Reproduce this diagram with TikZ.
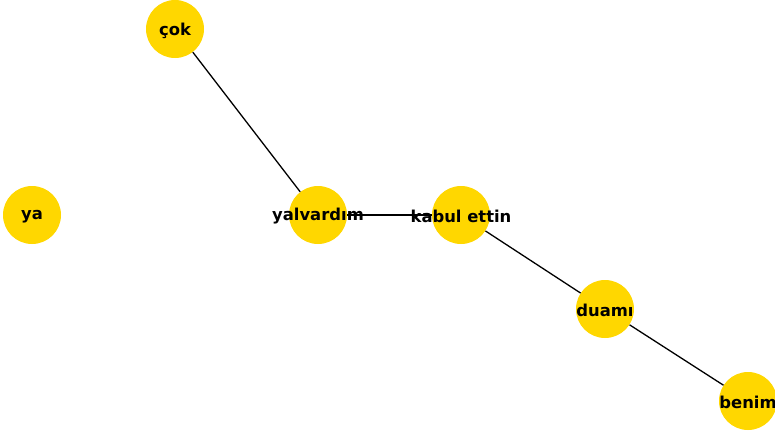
\documentclass[tikz,border=0pt]{standalone}
\usepackage{fontspec}
\setmainfont{DejaVu Sans}
\definecolor{gold}{HTML}{FFD700}
\begin{document}
\begin{tikzpicture}[x=1pt,y=-1pt,
  vtx/.style={circle,fill=gold,minimum size=58pt,inner sep=0pt},
  lbl/.style={font=\bfseries\fontsize{16.4}{18}\selectfont,text=black,inner sep=0pt,yshift=-1.5pt},
  edge/.style={draw=black,line width=1.3pt}]
\useasboundingbox (0,0) rectangle (775,436);
\clip (0,0) rectangle (775,436);
\node[vtx] (cok) at (175,29) {};
\node[vtx] (ya) at (32,215) {};
\node[vtx] (yal) at (318,215) {};
\node[vtx] (kab) at (461,215) {};
\node[vtx] (dua) at (605,309) {};
\node[vtx] (ben) at (748,401) {};
\draw[edge] (cok) -- (yal);
\draw[edge] (yal) -- (kab);
\draw[edge] (kab) -- (dua);
\draw[edge] (dua) -- (ben);
\node[lbl] (lcok) at (cok) {çok};
\node[lbl] (lya) at (ya) {ya};
\node[lbl] (lyal) at (yal) {yalvardım};
\node[lbl] (lkab) at (kab) {kabul ettin};
\node[lbl] (ldua) at (dua) {duamı};
\node[lbl] (lben) at (ben) {benim};
\end{tikzpicture}
\end{document}
